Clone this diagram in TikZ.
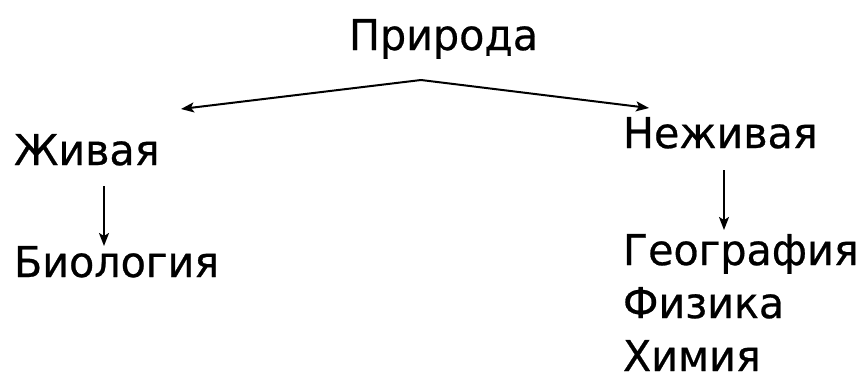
\documentclass[tikz,border=0pt]{standalone}
\usepackage{fontspec}
\setmainfont{DejaVu Sans}[FakeStretch=0.97, FakeBold=0.6]
\usetikzlibrary{arrows.meta}
\tikzset{
  lbl/.style={anchor=base west, inner sep=0pt, outer sep=0pt, font=\fontsize{42.5}{53}\selectfont},
  arr/.style={line width=2pt, -{Stealth[length=13pt,width=10pt,inset=3pt]}}
}
\begin{document}
\begin{tikzpicture}[x=1pt,y=-1pt]
\useasboundingbox (0,0) rectangle (860,381);
\node[lbl] (priroda) at (349,50) {Природа};
\node[lbl] (zhivaya) at (14,165) {Живая};
\node[lbl] (biologiya) at (14,277) {Биология};
\node[lbl] (nezhivaya) at (623,148) {Неживая};
\node[lbl] (geo) at (623,265) {География};
\node[lbl] (fiz) at (623,318) {Физика};
\node[lbl] (khim) at (623,371) {Химия};
\coordinate (apex) at (421,80);
\coordinate (ltip) at (181,109);
\coordinate (rtip) at (649,108);
\coordinate (z1) at (104,186);
\coordinate (z2) at (104,246);
\coordinate (n1) at (724,170);
\coordinate (n2) at (724,230);
\draw[arr] (apex) -- (ltip);
\draw[arr] (apex) -- (rtip);
\draw[arr] (z1) -- (z2);
\draw[arr] (n1) -- (n2);
\end{tikzpicture}
\end{document}
